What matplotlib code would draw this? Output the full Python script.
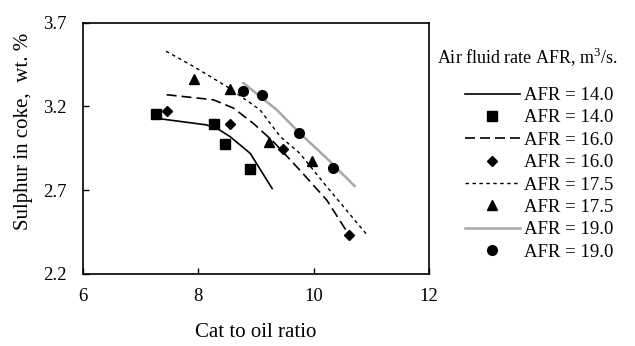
import matplotlib
matplotlib.use("Agg")
import matplotlib.pyplot as plt

plt.rcParams['font.family'] = ['Liberation Serif', 'DejaVu Serif']
plt.rcParams['mathtext.fontset'] = 'custom'
plt.rcParams['mathtext.rm'] = 'Liberation Serif'

# model lines
l14_x = [7.26, 8.14, 8.32, 8.55, 8.90, 9.28]
l14_y = [3.13, 3.09, 3.07, 3.02, 2.92, 2.71]
l16_x = [7.45, 8.26, 8.61, 8.95, 9.30, 9.76, 10.23, 10.60]
l16_y = [3.27, 3.24, 3.19, 3.10, 2.99, 2.82, 2.64, 2.44]
l175_x = [7.44, 7.91, 8.49, 9.07, 9.42, 9.76, 10.23, 10.57, 10.91]
l175_y = [3.53, 3.44, 3.32, 3.18, 3.02, 2.92, 2.72, 2.58, 2.44]
l19_x = [8.78, 9.36, 9.76, 10.23, 10.71]
l19_y = [3.34, 3.18, 3.04, 2.89, 2.725]

# experimental points
p14_x = [7.26, 8.28, 8.47, 8.90]
p14_y = [3.153, 3.095, 2.978, 2.825]
p16_x = [7.46, 8.55, 9.46, 10.61]
p16_y = [3.171, 3.095, 2.946, 2.431]
p175_x = [7.93, 8.55, 9.23, 9.97]
p175_y = [3.366, 3.306, 2.99, 2.873]
p19_x = [8.78, 9.10, 9.74, 10.33]
p19_y = [3.294, 3.266, 3.043, 2.83]

labels = ["AFR = 14.0", "AFR = 16.0", "AFR = 17.5", "AFR = 19.0"]
xticks = [6, 8, 10, 12]
yticks = [2.2, 2.7, 3.2, 3.7]

fig = plt.figure(figsize=(6.35, 3.46), dpi=100)
ax = fig.add_axes([0.1307, 0.2081, 0.5449, 0.7263])

ax.plot(l14_x, l14_y, color='black', lw=1.2, ls='-', label=labels[0])
ax.plot(p14_x, p14_y, ls='none', marker='s', ms=6.5, color='black', label=labels[0])
ax.plot(l16_x, l16_y, color='black', lw=1.2, ls=(0, (6, 3)), label=labels[1])
ax.plot(p16_x, p16_y, ls='none', marker='D', ms=5, color='black', label=labels[1])
ax.plot(l175_x, l175_y, color='black', lw=1.0, ls=(0, (2.5, 2.5)), label=labels[2])
ax.plot(p175_x, p175_y, ls='none', marker='^', ms=7, color='black', label=labels[2])
ax.plot(l19_x, l19_y, color='#a8a8a8', lw=1.8, ls='-', label=labels[3])
ax.plot(p19_x, p19_y, ls='none', marker='o', ms=7, color='black', label=labels[3])

ax.set_xlim(6, 12)
ax.set_ylim(2.2, 3.7)
ax.set_xticks(xticks)
ax.set_yticks(yticks)
ax.set_yticklabels([f"{v:.1f}" for v in yticks])
ax.tick_params(direction='in', length=4, labelsize=13.5, width=1)
ax.tick_params(axis='x', pad=10)
ax.tick_params(axis='y', pad=12)
for s in ax.spines.values():
    s.set_linewidth(1.2)

ax.set_xlabel("Cat to oil ratio", fontsize=15)
ax.xaxis.set_label_coords(0.5, -0.195)
ax.set_ylabel("Sulphur in coke,  wt. %", fontsize=15)
ax.yaxis.set_label_coords(-0.145, 0.567)

fig.text(437/635, 1 - 57/346, "Air fluid rate AFR, m$^3$/s.", fontsize=13,
         ha='left', va='center')

leg = ax.legend(loc='upper left', bbox_to_anchor=(465/635, 1 - 87/346),
                bbox_transform=fig.transFigure, frameon=False, fontsize=13.5,
                handlelength=2.93, handletextpad=0.2, labelspacing=0.28,
                borderpad=0, borderaxespad=0)

fig.savefig("out.png", dpi=100)
